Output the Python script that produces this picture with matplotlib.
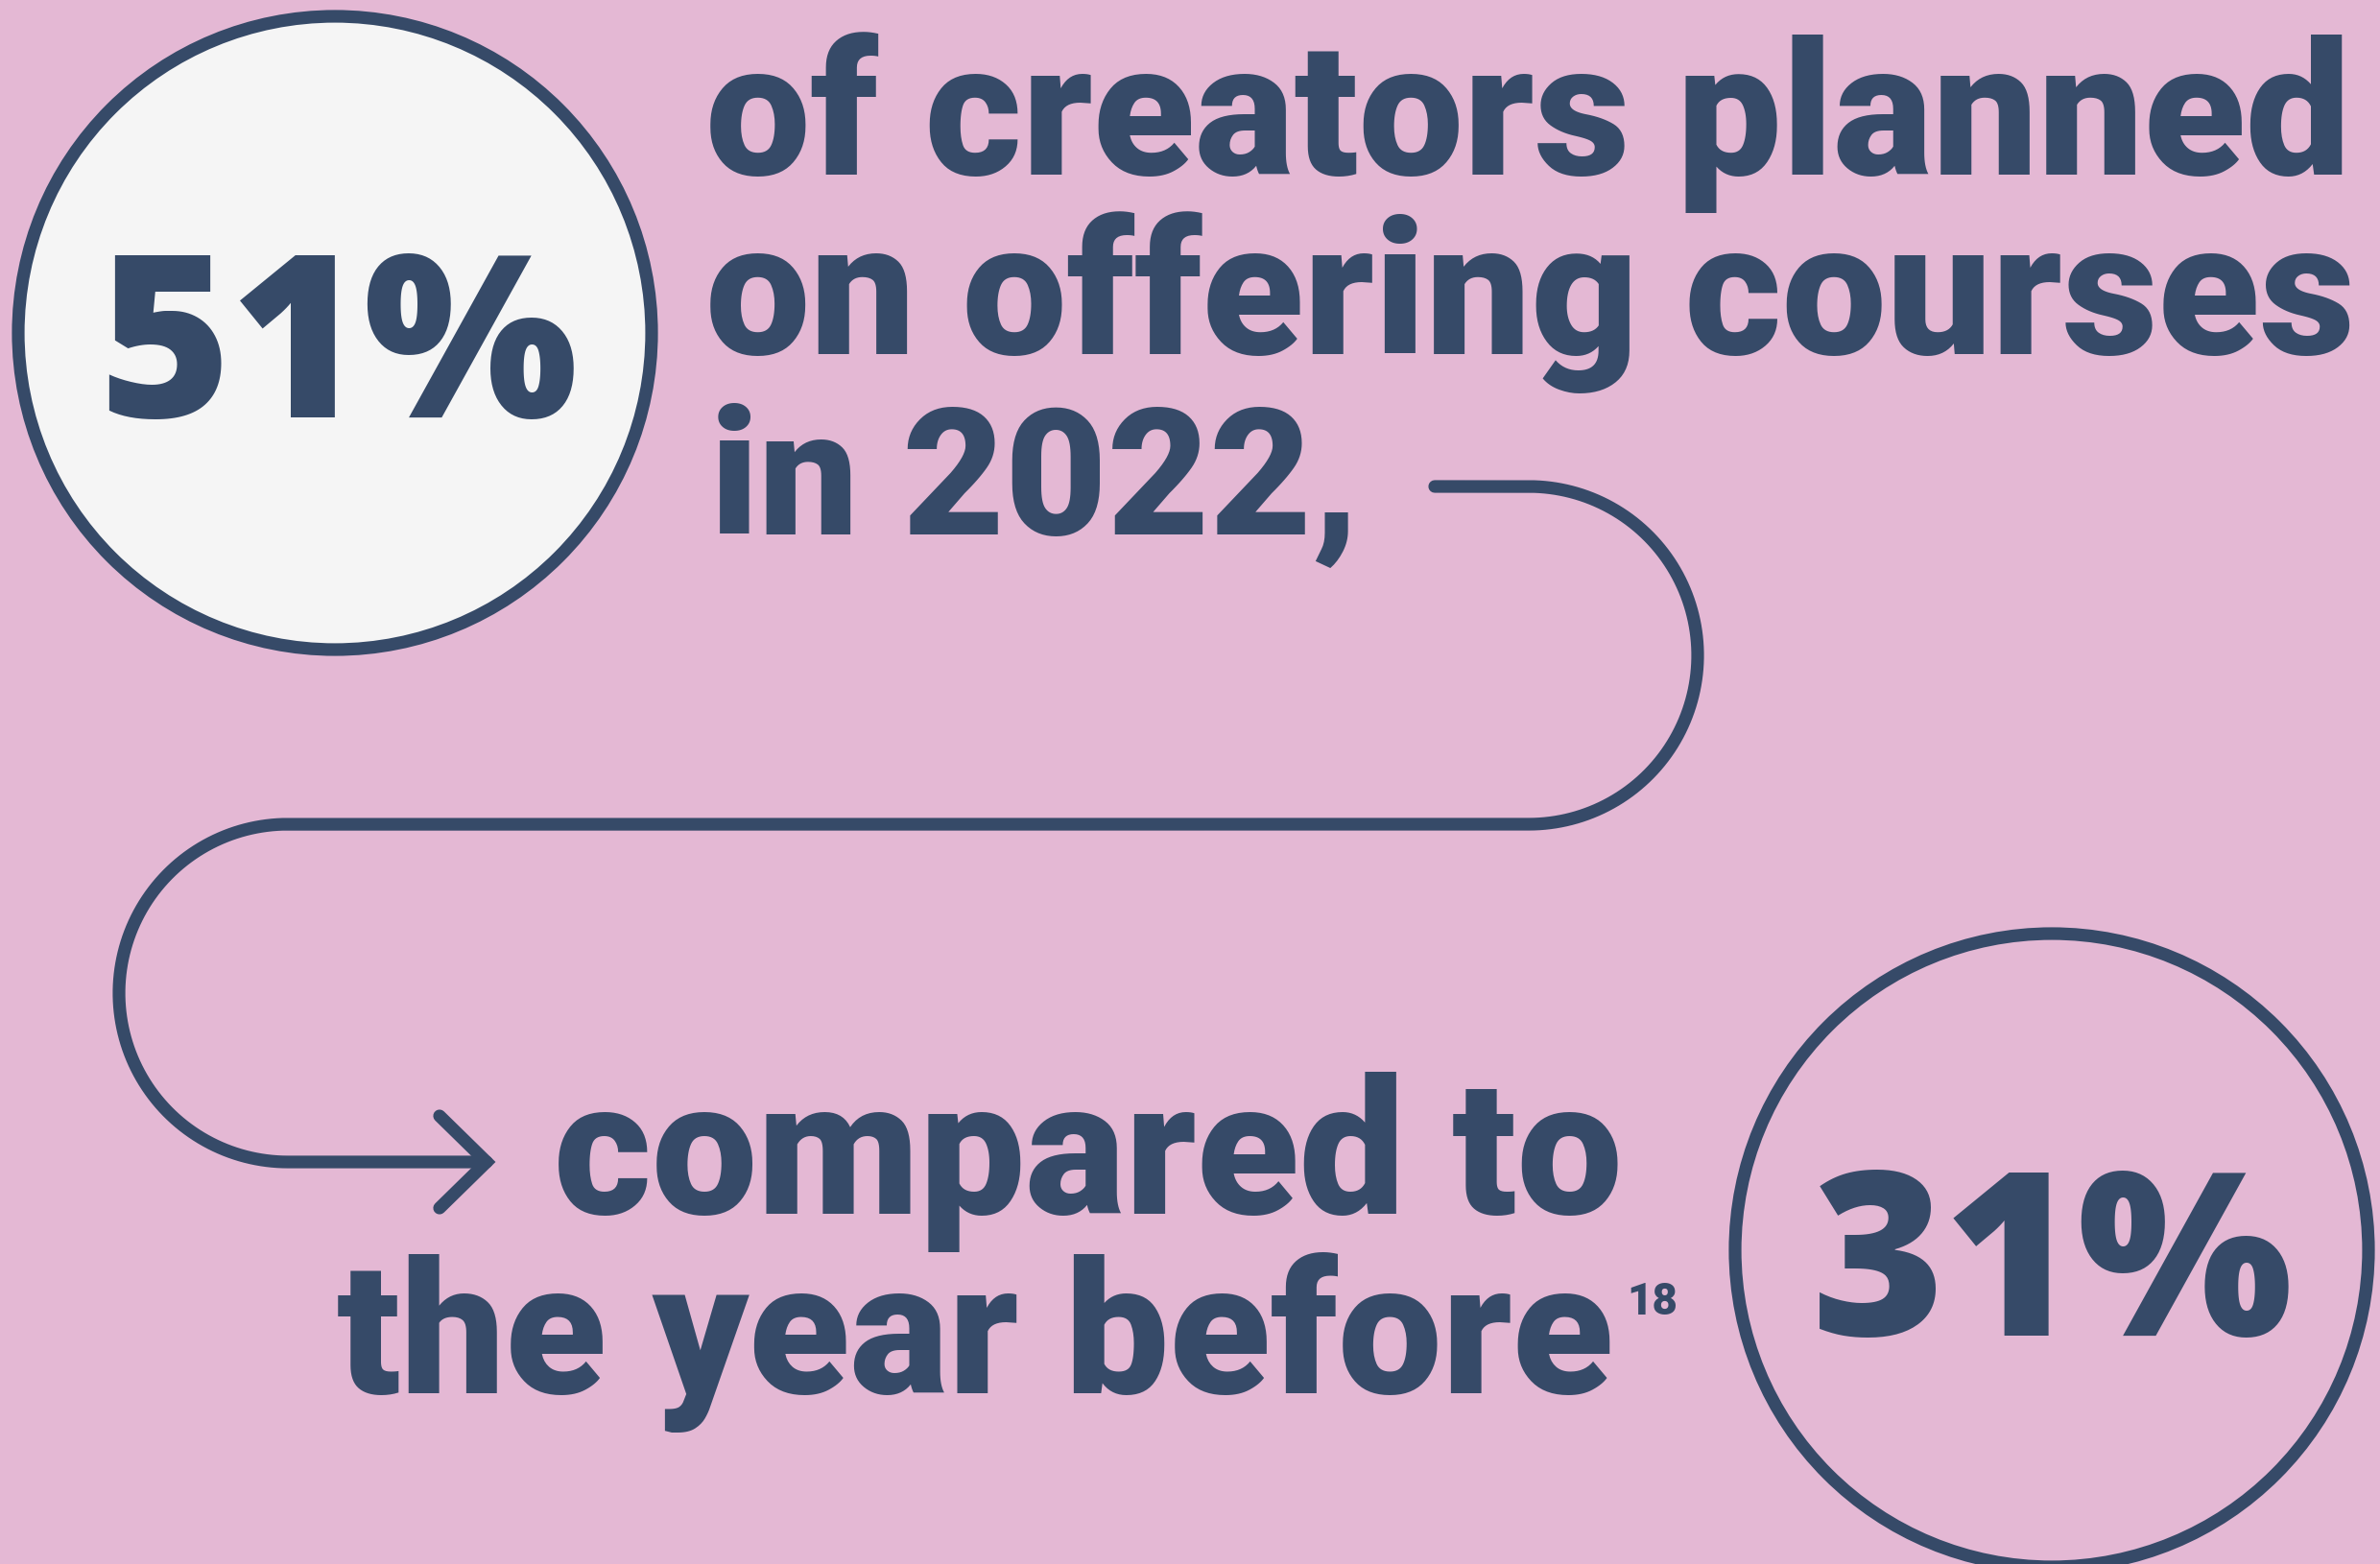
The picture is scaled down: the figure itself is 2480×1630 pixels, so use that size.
import numpy as np
import matplotlib
matplotlib.use('Agg')
import matplotlib.pyplot as plt
from matplotlib.patches import Circle

# Data
share_2022 = 51
share_2021 = 31
top_lines = ['of creators planned', 'on offering courses', 'in 2022,']
bottom_lines = ['compared to', 'the year before']
footnote = '18'

bg = '#E4B8D4'
navy = '#364A68'
light = '#F5F5F5'
font = 'Roboto'
num_font = 'Open Sans'

fig = plt.figure(figsize=(24.8, 16.3), dpi=100)
fig.patch.set_facecolor(bg)
ax = fig.add_axes([0, 0, 1, 1])
ax.set_xlim(0, 2480)
ax.set_ylim(1630, 0)
ax.axis('off')
ax.set_facecolor(bg)
renderer = fig.canvas.get_renderer()


def fit_text(x, y, s, right, size=120, family=font):
    # scale font size so the text spans x..right
    t = ax.text(x, y, s, fontsize=size, va='baseline', ha='left',
                family=family, weight='heavy', color=navy, zorder=5)
    bb = t.get_window_extent(renderer)
    t.set_fontsize(size * (right - x) / bb.width)
    return t


# circles
ax.add_patch(Circle((349, 347), 330, facecolor=light, edgecolor=navy, lw=9.5, zorder=2))
ax.add_patch(Circle((2138, 1303), 330, facecolor='none', edgecolor=navy, lw=9.5, zorder=2))

# connector path
t1 = np.linspace(-np.pi / 2, np.pi / 2, 100)
t2 = np.linspace(-np.pi / 2, -3 * np.pi / 2, 100)
xs = np.concatenate([[1495], 1593 + 176 * np.cos(t1), 300 + 176 * np.cos(t2), [507]])
ys = np.concatenate([[507], 683 + 176 * np.sin(t1), 1035 + 176 * np.sin(t2), [1211]])
ax.plot(xs, ys, color=navy, lw=9.5, solid_capstyle='round', solid_joinstyle='round', zorder=3)
ax.plot([458, 507, 458], [1163, 1211, 1259], color=navy, lw=9.5,
        solid_capstyle='round', solid_joinstyle='miter', zorder=3)

# big numbers
fit_text(102, 435, f'{share_2022}%', 602, family=num_font)
fit_text(1888, 1392, f'{share_2021}%', 2390, family=num_font)

# text lines
fit_text(735, 182, top_lines[0], 2448)
fit_text(735, 369, top_lines[1], 2452)
fit_text(740, 557, top_lines[2], 1417)
fit_text(577, 1265, bottom_lines[0], 1690)
fit_text(351, 1452, bottom_lines[1], 1680)
fit_text(1695, 1370, footnote, 1748, size=30)

fig.savefig('out.png', dpi=100, facecolor=bg)
